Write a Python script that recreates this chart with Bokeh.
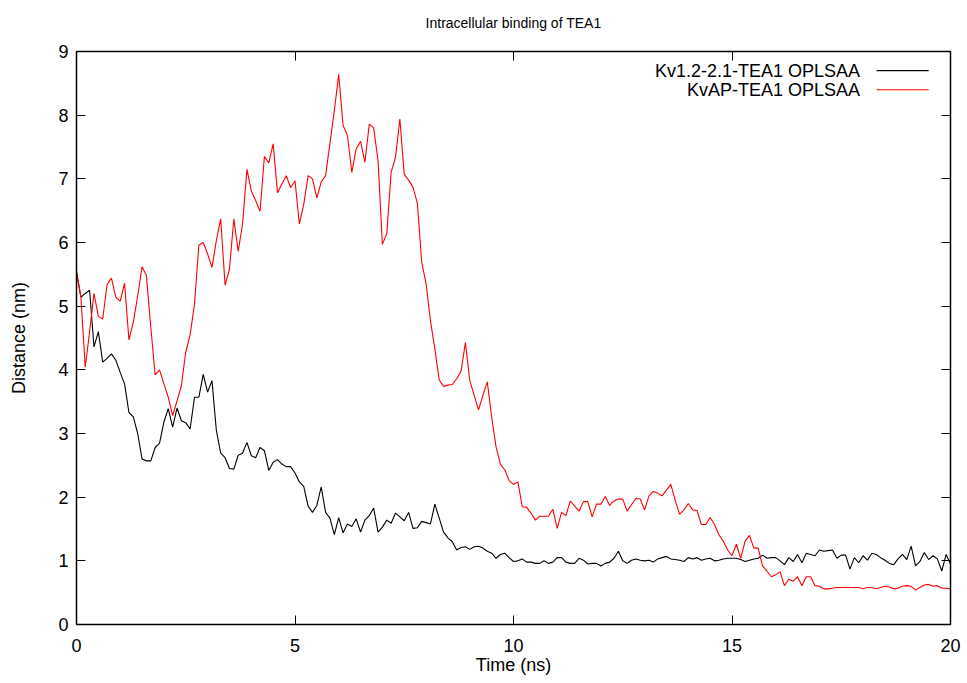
import numpy as np
from bokeh.plotting import figure
from bokeh.models import Range1d, LinearAxis, SingleIntervalTicker, Label, Arrow
from bokeh.embed import file_html
from bokeh.resources import INLINE

# Sampling times (ns), one frame every 0.1 ns
time_ns = np.round(np.arange(0, 201) * 0.1, 1)

# Kv1.2-2.1-TEA1 OPLSAA distance (nm)
kv12_dist = [
    5.53, 5.14, 5.20, 5.25, 4.36, 4.60, 4.12, 4.18, 4.25, 4.15,
    3.96, 3.78, 3.33, 3.26, 3.00, 2.60, 2.57, 2.57, 2.78, 2.85,
    3.18, 3.39, 3.10, 3.40, 3.20, 3.17, 3.07, 3.57, 3.57, 3.93,
    3.65, 3.83, 3.05, 2.69, 2.62, 2.45, 2.44, 2.66, 2.69, 2.86,
    2.65, 2.62, 2.78, 2.73, 2.42, 2.55, 2.59, 2.52, 2.48, 2.48,
    2.38, 2.24, 2.17, 1.86, 1.76, 1.87, 2.16, 1.76, 1.67, 1.41,
    1.68, 1.44, 1.58, 1.54, 1.66, 1.45, 1.64, 1.71, 1.83, 1.45,
    1.53, 1.64, 1.59, 1.75, 1.69, 1.63, 1.76, 1.51, 1.52, 1.62,
    1.60, 1.58, 1.89, 1.67, 1.45, 1.36, 1.30, 1.17, 1.21, 1.22,
    1.18, 1.22, 1.23, 1.20, 1.15, 1.12, 1.04, 1.10, 1.12, 1.05,
    0.99, 1.00, 1.03, 0.98, 0.98, 0.96, 0.96, 1.00, 0.96, 0.98,
    1.05, 1.05, 0.98, 0.96, 0.96, 1.04, 1.01, 0.95, 0.96, 0.96,
    0.92, 0.96, 0.98, 1.04, 1.15, 1.00, 0.96, 1.01, 1.03, 1.01,
    1.00, 1.01, 0.98, 1.03, 1.05, 1.07, 1.03, 1.02, 1.01, 0.99,
    1.05, 1.03, 1.05, 1.01, 1.03, 1.04, 1.00, 1.01, 1.03, 1.04,
    1.04, 1.04, 1.02, 0.99, 1.01, 1.03, 1.04, 1.09, 1.04, 1.05,
    1.05, 1.00, 0.94, 1.05, 0.99, 1.10, 0.97, 1.12, 1.10, 1.08,
    1.17, 1.15, 1.16, 1.17, 1.04, 1.09, 1.09, 0.87, 1.05, 0.97,
    1.08, 1.01, 1.12, 1.10, 1.05, 1.01, 0.96, 0.94, 1.03, 1.10,
    1.02, 1.23, 0.92, 0.99, 1.13, 1.02, 1.08, 1.03, 0.84, 1.10,
    0.95,
]

# KvAP-TEA1 OPLSAA distance (nm)
kvap_dist = [
    5.55, 5.15, 4.04, 4.60, 5.20, 4.84, 4.80, 5.34, 5.44, 5.14,
    5.08, 5.36, 4.47, 4.75, 5.16, 5.62, 5.48, 4.67, 3.92, 4.00,
    3.78, 3.57, 3.28, 3.51, 3.75, 4.28, 4.55, 5.03, 5.96, 6.00,
    5.82, 5.61, 6.03, 6.37, 5.33, 5.58, 6.37, 5.86, 6.29, 7.15,
    6.81, 6.66, 6.49, 7.35, 7.25, 7.55, 6.78, 6.92, 7.05, 6.86,
    6.97, 6.29, 6.60, 7.05, 7.00, 6.70, 6.95, 7.05, 7.56, 8.07,
    8.64, 7.84, 7.68, 7.10, 7.47, 7.59, 7.26, 7.86, 7.80, 7.29,
    5.97, 6.14, 7.10, 7.34, 7.94, 7.07, 6.98, 6.87, 6.62, 5.69,
    5.35, 4.77, 4.33, 3.84, 3.74, 3.76, 3.77, 3.86, 3.98, 4.43,
    3.83, 3.60, 3.37, 3.60, 3.81, 3.26, 2.79, 2.52, 2.43, 2.26,
    2.20, 2.24, 1.85, 1.84, 1.75, 1.64, 1.70, 1.70, 1.70, 1.81,
    1.51, 1.76, 1.71, 1.94, 1.86, 1.78, 1.93, 1.93, 1.69, 1.89,
    1.89, 2.01, 1.87, 1.94, 1.97, 1.97, 1.78, 1.88, 1.98, 1.97,
    1.80, 2.02, 2.09, 2.06, 2.02, 2.11, 2.20, 1.95, 1.73, 1.80,
    1.90, 1.80, 1.79, 1.57, 1.57, 1.68, 1.57, 1.41, 1.31, 1.17,
    1.08, 1.26, 1.04, 1.31, 1.40, 1.20, 1.20, 0.92, 0.84, 0.75,
    0.78, 0.83, 0.61, 0.71, 0.68, 0.75, 0.61, 0.75, 0.75, 0.61,
    0.60, 0.56, 0.56, 0.57, 0.58, 0.58, 0.58, 0.58, 0.58, 0.58,
    0.56, 0.58, 0.58, 0.56, 0.58, 0.60, 0.59, 0.56, 0.57, 0.60,
    0.61, 0.60, 0.54, 0.58, 0.62, 0.63, 0.60, 0.61, 0.57, 0.57,
    0.56,
]

series_names = ["Kv1.2-2.1-TEA1 OPLSAA", "KvAP-TEA1 OPLSAA"]
series_colors = ["#000000", "#ff0000"]
chart_title = "Intracellular binding of TEA1"

FONT = "Liberation Sans"

p = figure(
    width=967, height=683,
    x_range=Range1d(0, 20), y_range=Range1d(0, 9),
    output_backend="svg", toolbar_location=None,
    min_border_left=76, min_border_right=17,
    min_border_top=51, min_border_bottom=59,
    background_fill_color="white", border_fill_color="white",
)
p.grid.visible = False
p.outline_line_color = "black"
p.outline_line_width = 1

# Main axes: ticks pointing inward, labels outside
p.xaxis.ticker = SingleIntervalTicker(interval=5)
p.yaxis.ticker = SingleIntervalTicker(interval=1)
for ax in (p.xaxis[0], p.yaxis[0]):
    ax.major_tick_in = 9
    ax.major_tick_out = 0
    ax.minor_tick_in = 0
    ax.minor_tick_out = 0
    ax.axis_line_color = "black"
    ax.axis_line_width = 1.5
    ax.major_tick_line_color = "black"
    ax.major_label_text_font = FONT
    ax.major_label_text_font_size = "18px"
    ax.major_label_text_color = "black"
    ax.axis_label_text_font = FONT
    ax.axis_label_text_font_size = "18px"
    ax.axis_label_text_font_style = "normal"
    ax.axis_label_text_color = "black"
p.yaxis.major_label_standoff = 8
p.xaxis.major_label_standoff = 14
p.xaxis.axis_label = "Time (ns)"
p.yaxis.axis_label = "Distance (nm)"
p.xaxis.axis_label_standoff = 0
p.yaxis.axis_label_standoff = 26

# Mirrored ticks on the top and right edges (no tick labels);
# the top edge also carries the chart title
mirror_axes = {}
for side, interval in (("above", 5), ("right", 1)):
    ax = LinearAxis(ticker=SingleIntervalTicker(interval=interval))
    ax.major_tick_in = 9
    ax.major_tick_out = 0
    ax.minor_tick_in = 0
    ax.minor_tick_out = 0
    ax.major_label_text_font_size = "2px"
    ax.major_label_text_color = None
    ax.major_label_standoff = 0
    ax.axis_line_color = "black"
    ax.axis_line_width = 1.5
    p.add_layout(ax, side)
    mirror_axes[side] = ax

top_axis = mirror_axes["above"]
top_axis.axis_label = chart_title
top_axis.axis_label_text_font = FONT
top_axis.axis_label_text_font_size = "14px"
top_axis.axis_label_text_font_style = "normal"
top_axis.axis_label_text_color = "black"
top_axis.axis_label_standoff = 21

# Data curves
p.line(time_ns, kv12_dist, line_color=series_colors[0], line_width=1.1)
p.line(time_ns, kvap_dist, line_color=series_colors[1], line_width=1.1)

# Key: right-aligned text followed by a line sample
key_rows = [8.70, 8.40]
for name, color, ky in zip(series_names, series_colors, key_rows):
    p.add_layout(Label(x=17.93, y=ky, text=name,
                       text_align="right", text_baseline="middle",
                       text_font=FONT, text_font_size="18px", text_color="black"))
    p.add_layout(Arrow(end=None, x_start=18.31, y_start=ky, x_end=19.5, y_end=ky,
                       line_color=color, line_width=1.1))

open("out.html", "w").write(file_html(p, INLINE))
